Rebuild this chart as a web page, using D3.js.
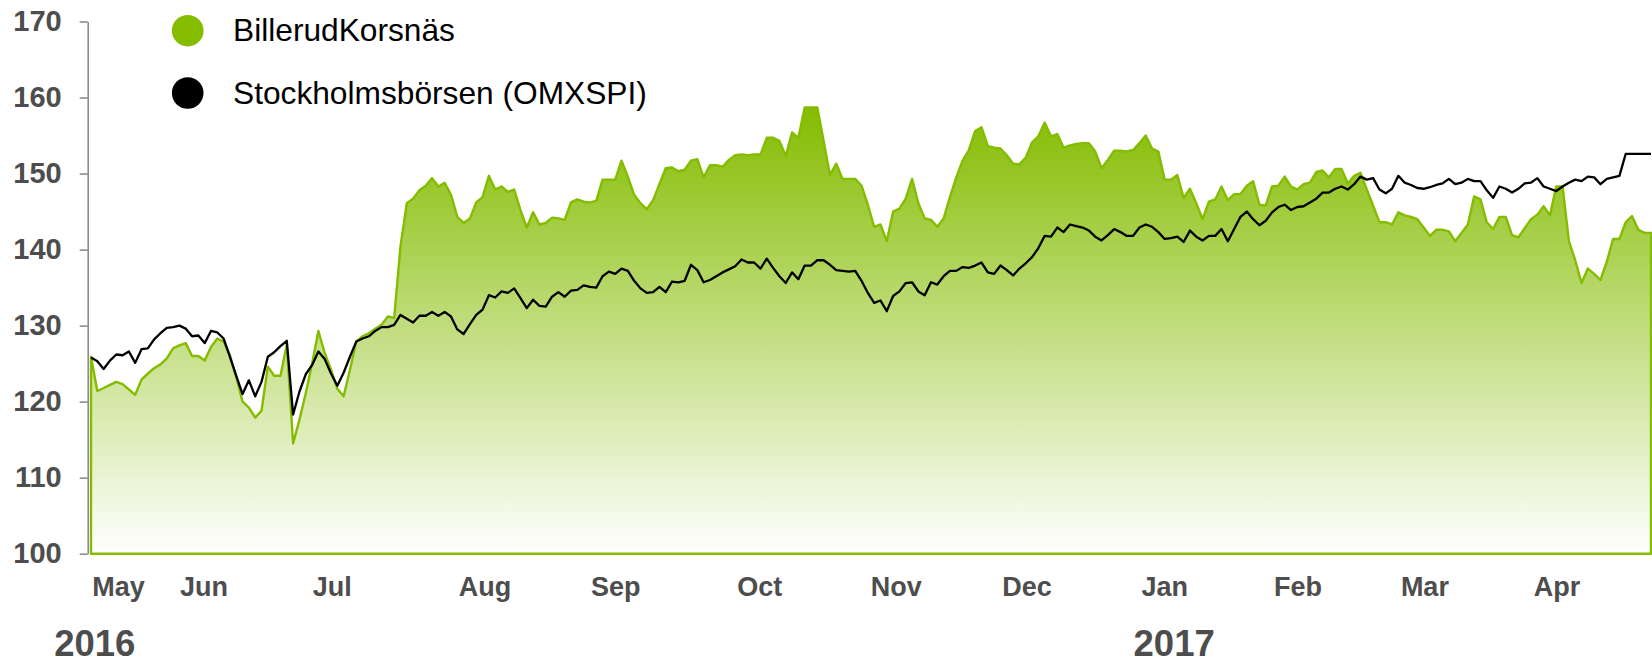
<!DOCTYPE html>
<html><head><meta charset="utf-8">
<script src="https://cdn.jsdelivr.net/npm/d3@7"></script>
<style>
body{margin:0;background:#fff}
svg{display:block}
text{font-family:"Liberation Sans",Arial,Helvetica,sans-serif}
</style>
</head><body>
<svg id="chart" width="1652" height="664"></svg>
<script>
// ---- data (indexed by trading day, May 2016 – Apr 2017, rebased) ----
const seriesNames = ["BillerudKorsnäs", "Stockholmsbörsen (OMXSPI)"];

const billerud = [
125.9,121.4,121.8,122.2,122.6,122.3,121.6,120.9,122.9,123.7,
124.4,124.9,125.7,127.0,127.4,127.7,126.0,126.0,125.4,127.2,
128.3,127.9,126.1,123.2,120.0,119.2,117.9,118.8,124.6,123.4,
123.4,127.5,114.5,117.6,121.1,125.0,129.3,126.4,124.2,121.7,
120.7,124.2,127.9,128.6,129.0,129.6,130.1,131.2,131.0,140.4,
146.1,146.7,147.8,148.4,149.4,148.3,148.8,147.2,144.3,143.5,
144.1,146.2,
146.9,149.7,147.9,148.3,147.6,147.9,145.2,142.9,144.9,143.3,
143.5,144.2,144.1,143.9,146.2,146.6,146.3,146.2,146.4,149.2,
149.2,149.2,151.7,149.6,147.2,146.1,145.3,146.5,148.6,150.7,
150.8,150.3,150.5,151.7,151.9,149.5,151.1,151.1,150.9,151.8,
152.4,152.5,152.4,152.5,152.5,154.7,154.7,154.3,152.3,155.4,
154.7,158.7,158.7,158.7,154.3,149.8,151.3,149.3,149.3,149.3,
148.4,145.9,143.0,
143.3,141.1,145.0,145.4,146.7,149.3,146.1,144.1,143.9,143.0,
144.1,146.9,149.5,151.7,153.1,155.6,156.1,153.6,153.4,153.3,
152.4,151.3,151.2,152.1,154.1,154.9,156.7,154.9,155.2,153.4,
153.7,153.9,154.0,154.0,152.9,150.7,151.8,153.0,153.0,152.9,
153.1,154.0,155.0,153.3,152.9,149.2,149.2,149.8,146.8,148.0,
146.1,144.0,146.3,146.6,148.3,146.5,147.3,147.3,148.4,149.0,
145.9,145.8,
148.3,148.4,149.6,148.3,147.9,148.6,148.8,150.2,150.4,149.5,
150.6,150.6,148.7,149.7,150.1,147.9,145.8,143.6,143.6,143.3,
144.9,144.5,144.3,144.0,142.9,141.8,142.6,142.6,142.4,141.1,
142.2,143.3,147.0,146.6,143.6,142.7,144.3,144.3,141.9,141.6,
142.8,144.0,144.6,145.7,144.5,148.3,148.3,141.1,138.6,135.6,
137.5,136.8,136.0,138.4,141.4,141.4,143.6,144.4,142.6,142.2,
142.2
];

const omxspi = [
125.8,125.3,124.3,125.4,126.2,126.1,126.6,125.1,126.9,127.0,
128.2,129.0,129.7,129.8,130.0,129.6,128.6,128.7,127.7,129.3,
129.1,128.3,125.9,123.4,121.0,122.8,120.7,122.6,125.9,126.5,
127.3,128.0,118.3,121.3,123.6,124.8,126.6,125.6,123.7,122.1,
123.8,125.9,127.9,128.3,128.6,129.3,129.8,129.8,130.1,131.4,
130.9,130.4,131.3,131.3,131.8,131.3,131.8,131.2,129.5,128.9,
130.2,131.4,
132.1,134.0,133.7,134.5,134.3,134.9,133.6,132.3,133.4,132.6,
132.5,133.8,134.4,133.8,134.6,134.7,135.3,135.1,135.0,136.5,
137.1,136.8,137.5,137.2,135.9,134.9,134.3,134.4,135.1,134.4,
135.8,135.7,135.9,138.0,137.3,135.7,136.0,136.5,137.0,137.4,
137.8,138.7,138.3,138.3,137.5,138.8,137.6,136.5,135.6,137.0,
136.1,137.9,137.9,138.6,138.6,138.0,137.3,137.2,137.1,137.2,
135.9,134.3,133.0,
133.3,131.9,133.9,134.5,135.6,135.7,134.5,134.0,135.7,135.4,
136.5,137.2,137.2,137.7,137.6,137.9,138.3,137.0,136.8,137.9,
137.3,136.6,137.5,138.2,139.0,140.2,141.8,141.7,142.9,142.3,
143.3,143.1,142.9,142.5,141.7,141.2,141.9,142.7,142.3,141.8,
141.8,142.9,143.3,143.0,142.3,141.4,141.5,141.7,141.0,142.5,
141.7,141.2,141.8,141.8,142.7,141.1,142.7,144.3,145.0,144.0,
143.2,143.8,
144.9,145.6,145.9,145.2,145.6,145.7,146.2,146.7,147.5,147.5,
148.0,148.3,147.9,148.6,149.6,149.2,149.4,147.9,147.4,148.0,
149.7,148.8,148.5,148.1,148.0,148.2,148.5,148.7,149.3,148.6,
148.8,149.3,149.0,149.0,147.8,146.8,148.3,148.0,147.5,148.0,
148.7,148.8,149.4,148.3,148.0,147.7,148.3,148.8,149.2,149.0,
149.6,149.5,148.6,149.3,149.5,149.7,152.6,152.6,152.6,152.6,
152.6
];

const yTicks = [100, 110, 120, 130, 140, 150, 160, 170];
const monthLabels = ["May","Jun","Jul","Aug","Sep","Oct","Nov","Dec","Jan","Feb","Mar","Apr"];
const monthPos = [4.35, 17.9, 38.2, 62.4, 83.1, 105.9, 127.5, 148.2, 170.0, 191.1, 211.2, 232.1];
const yearLabels = ["2016", "2017"];
const yearPos = [0.6, 171.5];

// ---- layout ----
const GREEN = "#84bc00";
const TXT = "#4d4d4d";
const svg = d3.select("#chart");

const x = d3.scaleLinear().domain([0, billerud.length - 1]).range([91, 1651]);
const y = d3.scaleLinear().domain([100, 170]).range([553.7, 21.5]);

const defs = svg.append("defs");
const grad = defs.append("linearGradient").attr("id", "gfill")
  .attr("x1", 0).attr("y1", 0).attr("x2", 0).attr("y2", 1);
grad.append("stop").attr("offset", 0).attr("stop-color", "#84bc00");
grad.append("stop").attr("offset", 1).attr("stop-color", "#ffffff");

// area
const area = d3.area().x((d, i) => x(i)).y0(y(100)).y1(d => y(d));
svg.append("path").datum(billerud)
  .attr("d", area)
  .attr("fill", "url(#gfill)")
  .attr("stroke", GREEN)
  .attr("stroke-width", 2.4)
  .attr("stroke-linejoin", "round");

// OMX line
const line = d3.line().x((d, i) => x(i)).y(d => y(d));
svg.append("path").datum(omxspi)
  .attr("d", line)
  .attr("fill", "none")
  .attr("stroke", "#000")
  .attr("stroke-width", 2.3)
  .attr("stroke-linejoin", "round");

// y axis
const yAxis = svg.append("g").attr("transform", "translate(87.7,0)")
  .call(d3.axisLeft(y).tickValues(yTicks).tickSize(8).tickSizeOuter(0).tickPadding(18));
yAxis.select(".domain").attr("stroke", "#8c8c8c").attr("stroke-width", 1.6);
yAxis.selectAll(".tick line").attr("stroke", "#8c8c8c").attr("stroke-width", 1.6);
yAxis.selectAll(".tick text")
  .attr("fill", TXT)
  .style("font-family", '"Liberation Sans", Arial, sans-serif')
  .style("font-size", "29px").style("font-weight", "bold");

// month labels
svg.append("g").selectAll("text").data(monthLabels).join("text")
  .attr("x", (d, i) => x(monthPos[i]))
  .attr("y", 596)
  .attr("text-anchor", "middle")
  .attr("fill", TXT)
  .style("font-size", "27px").style("font-weight", "bold")
  .text(d => d);

// year labels
svg.append("g").selectAll("text").data(yearLabels).join("text")
  .attr("x", (d, i) => x(yearPos[i]))
  .attr("y", 656)
  .attr("text-anchor", "middle")
  .attr("fill", TXT)
  .style("font-size", "36.5px").style("font-weight", "bold")
  .text(d => d);

// legend
const legendColors = [GREEN, "#000"];
const leg = svg.append("g");
seriesNames.forEach((name, i) => {
  const cy = 30.7 + i * 62.3;
  leg.append("circle").attr("cx", 187.7).attr("cy", cy).attr("r", 15.8).attr("fill", legendColors[i]);
  leg.append("text").attr("x", 233).attr("y", cy + 10.5).attr("fill", "#000")
    .style("font-size", "31.7px").text(name);
});
</script>
</body></html>
